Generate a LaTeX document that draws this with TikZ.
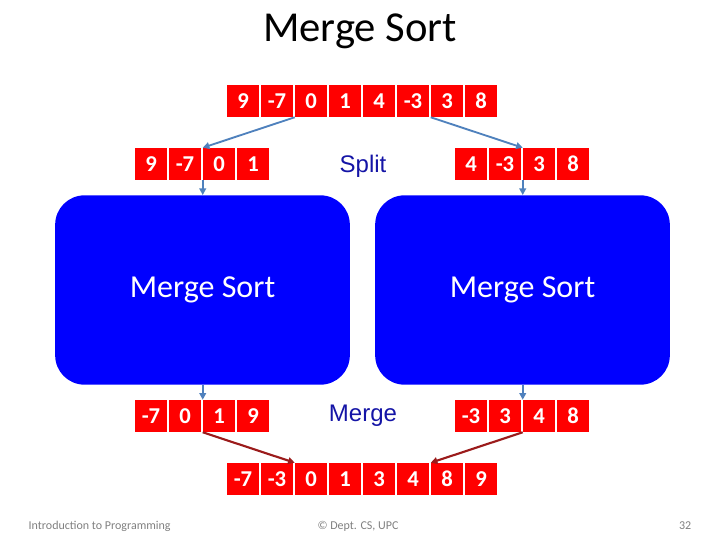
\documentclass[tikz,border=0pt]{standalone}
\usepackage{fontspec}
\setmainfont{Carlito}
\newfontfamily\arialfont{Liberation Sans}
\usetikzlibrary{arrows.meta,positioning}
\definecolor{cellred}{HTML}{FF0000}
\definecolor{sortblue}{HTML}{0000FF}
\definecolor{linkblue}{HTML}{4F81BD}
\definecolor{mergered}{HTML}{9B1B1B}
\definecolor{labelblue}{HTML}{1414A6}
\definecolor{footgray}{HTML}{7F7F7F}

\begin{document}
\begin{tikzpicture}[
  x=0.75pt, y=-0.75pt,
  cell/.style={
    fill=cellred,
    text=white,
    minimum width=24pt,
    minimum height=24pt,
    inner sep=0pt,
    font=\fontsize{17}{20}\selectfont\bfseries
  },
  sortbox/.style={
    fill=sortblue,
    text=white,
    rounded corners=22pt,
    minimum width=221pt,
    minimum height=142pt,
    font=\fontsize{24}{28}\selectfont
  },
  steplabel/.style={text=labelblue, font=\arialfont\fontsize{18}{21}\selectfont},
  footer/.style={text=footgray, font=\fontsize{9}{11}\selectfont},
  split flow/.style={-{Triangle[length=5pt,width=5pt]}, draw=linkblue, line width=1.4pt},
  merge flow/.style={-{Triangle[length=5pt,width=5pt]}, draw=mergered, line width=1.6pt}
]
\useasboundingbox (0,0) rectangle (720,540);

\node (title) at (360,31) {\fontsize{32}{38}\selectfont Merge Sort};

% input and the two halves
\foreach \v [count=\i] in {9,-7,0,1,4,-3,3,8}
  \node[cell] (top-\i) at ({243+34*(\i-1)},101) {\v};
\foreach \v [count=\i] in {9,-7,0,1}
  \node[cell] (left-\i) at ({151+34*(\i-1)},164) {\v};
\foreach \v [count=\i] in {4,-3,3,8}
  \node[cell] (right-\i) at ({471+34*(\i-1)},164) {\v};

\node[steplabel] (split) at (363,166) {Split};

\draw[split flow] (top-3.south west) -- (left-3.north west);
\draw[split flow] (top-7.south west) -- (right-3.north west);

% recursive calls
\node[sortbox] (leftsort) at (202.5,290) {Merge Sort};
\node[sortbox] (rightsort) at (522.5,290) {Merge Sort};

\draw[split flow] (left-3.south west) -- (left-3.south west |- leftsort.north);
\draw[split flow] (right-3.south west) -- (right-3.south west |- rightsort.north);

% sorted halves
\foreach \v [count=\i] in {-7,0,1,9}
  \node[cell] (lsorted-\i) at ({151+34*(\i-1)},416) {\v};
\foreach \v [count=\i] in {-3,3,4,8}
  \node[cell] (rsorted-\i) at ({471+34*(\i-1)},416) {\v};

\draw[split flow] (leftsort.south -| lsorted-3.north west) -- (lsorted-3.north west);
\draw[split flow] (rightsort.south -| rsorted-3.north west) -- (rsorted-3.north west);

\node[steplabel] (merge) at (363,416) {Merge};

% result
\foreach \v [count=\i] in {-7,-3,0,1,3,4,8,9}
  \node[cell] (final-\i) at ({243+34*(\i-1)},479) {\v};

\draw[merge flow] (lsorted-3.south west) -- (final-3.north west);
\draw[merge flow] (rsorted-3.south west) -- (final-7.north west);

% footer
\node[footer, anchor=west] (course) at (24,526) {Introduction to Programming};
\node[footer] (dept) at (358,526) {© Dept. CS, UPC};
\node[footer, anchor=east] (page) at (696,526) {32};
\end{tikzpicture}
\end{document}
